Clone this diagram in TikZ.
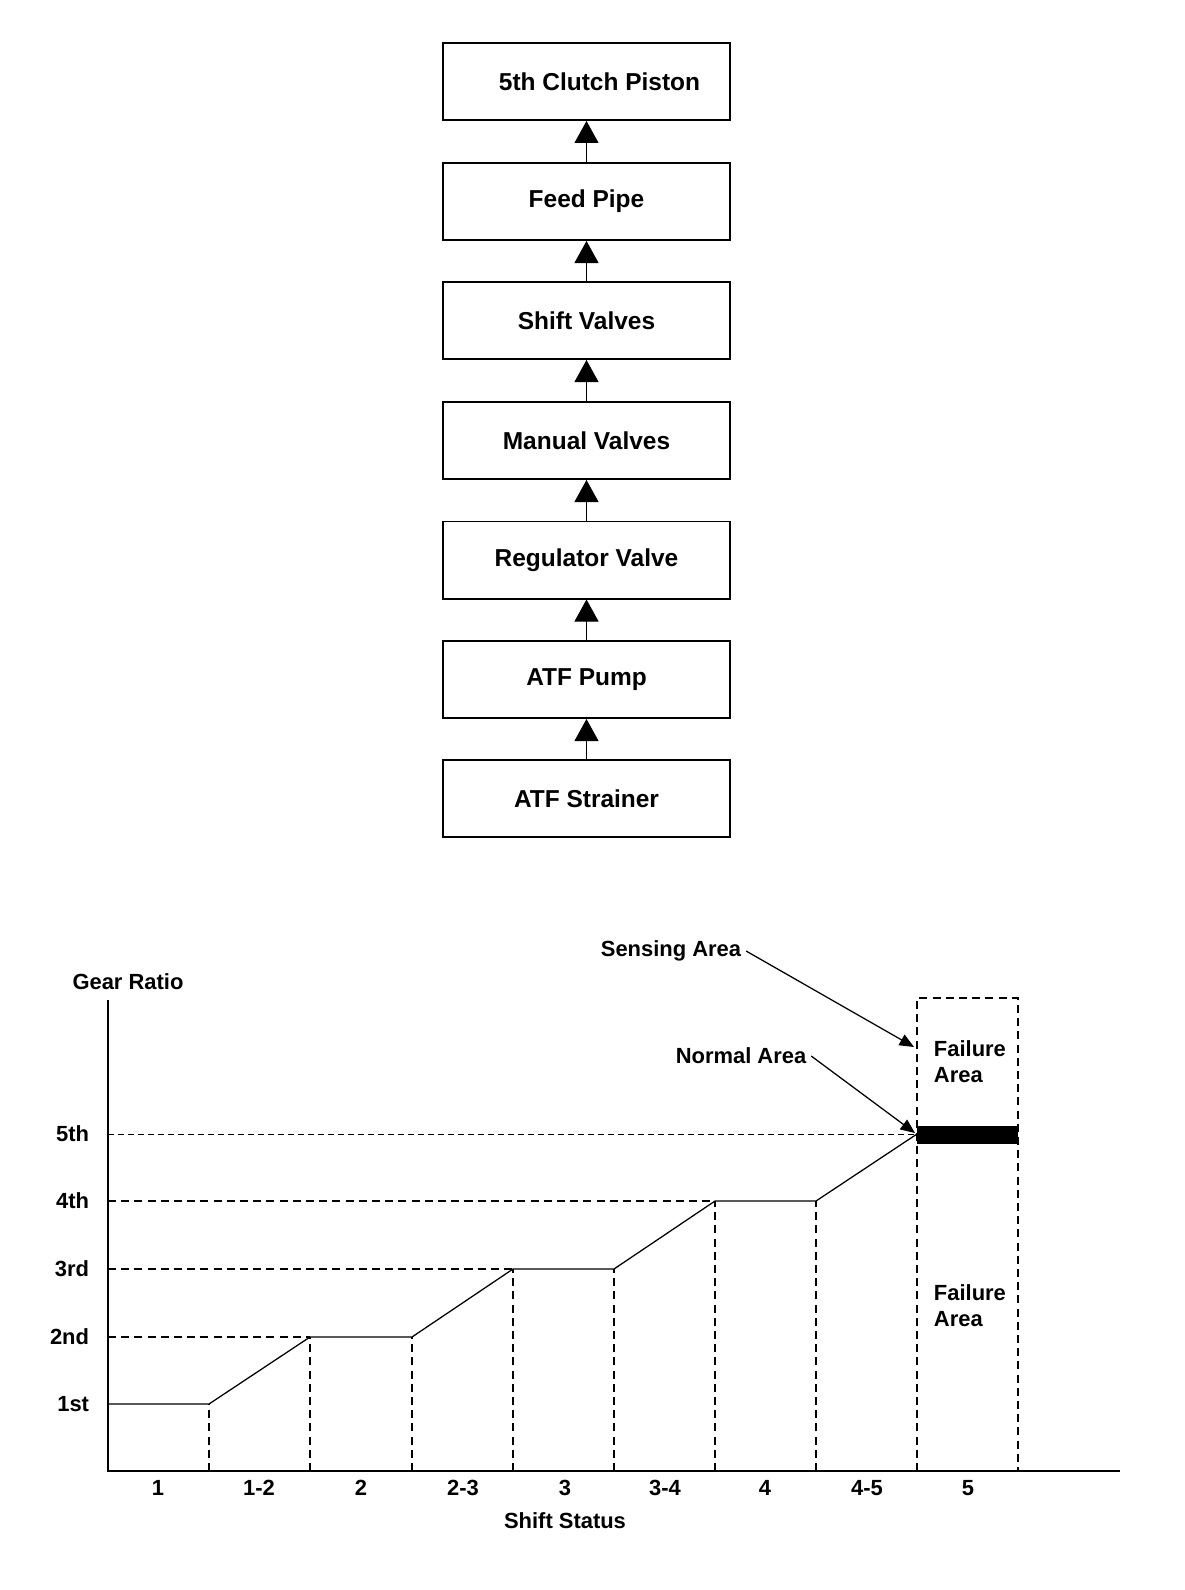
\documentclass[tikz,border=0pt]{standalone}
\usepackage{fontspec}
\setmainfont{Liberation Sans}
\usetikzlibrary{arrows.meta}

\tikzset{
	blocco/.style={draw, line width=1.4pt, minimum width=7.175cm, minimum height=1.925cm, font=\bfseries\fontsize{17.4}{20}\selectfont},
	freccia/.style={-{Triangle[length=0.55cm,width=0.6cm]}, line width=0.7pt},
	etichetta/.style={font=\bfseries\fontsize{15.6}{18.5}\selectfont},
	puntata/.style={dashed, dash pattern=on 0.2cm off 0.13cm, line width=0.9pt},
	puntina/.style={-{Triangle[length=0.36cm,width=0.3cm]}, line width=0.9pt}
}

\begin{document}
\begin{tikzpicture}[x=0.025cm,y=-0.025cm]
		\useasboundingbox (0,0) rectangle (1184,1590);
		% schema a blocchi
		\node [blocco](Pistone)at (586.5,81.5) {\hspace*{0.65cm}5th Clutch Piston};
		\node [blocco](Tubo)at (586.5,201.5) {Feed Pipe};
		\node [blocco](Cambio)at (586.5,320.5) {Shift Valves};
		\node [blocco](Manuali)at (586.5,440.5) {Manual Valves};
		\node [blocco](Regolatore)at (586.5,560) {Regulator Valve};
		\node [blocco](Pompa)at (586.5,679.5) {ATF Pump};
		\node [blocco](Filtro)at (586.5,798.5) {ATF Strainer};
		\draw [freccia](Filtro)--(Pompa);
		\draw [freccia](Pompa)--(Regolatore);
		\draw [freccia](Regolatore)--(Manuali);
		\draw [freccia](Manuali)--(Cambio);
		\draw [freccia](Cambio)--(Tubo);
		\draw [freccia](Tubo)--(Pistone);
		% grafico
		\coordinate (O) at (108,1471);
		\draw [line width=1.4pt](108,1000)--(O)--(1120,1471);
		\node [etichetta](Rapporto)at (128,982) {Gear Ratio};
		\node [etichetta, anchor=east](M1)at (94,1404) {1st};
		\node [etichetta, anchor=east](M2)at (94,1337) {2nd};
		\node [etichetta, anchor=east](M3)at (94,1269) {3rd};
		\node [etichetta, anchor=east](M4)at (94,1201) {4th};
		\node [etichetta, anchor=east](M5)at (94,1134) {5th};
		\node [etichetta](S1)at (158,1488) {1};
		\node [etichetta](S12)at (259,1488) {1-2};
		\node [etichetta](S2)at (361,1488) {2};
		\node [etichetta](S23)at (463,1488) {2-3};
		\node [etichetta](S3)at (565,1488) {3};
		\node [etichetta](S34)at (665,1488) {3-4};
		\node [etichetta](S4)at (765,1488) {4};
		\node [etichetta](S45)at (867,1488) {4-5};
		\node [etichetta](S5)at (968,1488) {5};
		\node [etichetta](Stato)at (565,1521) {Shift Status};
		% rapporti
		\draw [line width=0.9pt](108,1404)--(209,1404)--(310,1337)--(412,1337)--(513,1269)--(614,1269)--(715,1201)--(816,1201)--(917,1134);
		\draw [puntata](108,1337)--(310,1337);
		\draw [puntata](108,1269)--(513,1269);
		\draw [puntata](108,1201)--(715,1201);
		\draw [puntata, line width=0.6pt, dash pattern=on 0.15cm off 0.1cm](108,1134)--(917,1134);
		\draw [puntata](209,1471)--(209,1404);
		\draw [puntata](310,1471)--(310,1337);
		\draw [puntata](412,1471)--(412,1337);
		\draw [puntata](513,1471)--(513,1269);
		\draw [puntata](614,1471)--(614,1269);
		\draw [puntata](715,1471)--(715,1201);
		\draw [puntata](816,1471)--(816,1201);
		\draw [puntata](917,1471)--(917,998)--(1018,998)--(1018,1471);
		\fill (917,1126) rectangle (1018,1144);
		% aree
		\node [etichetta, align=left, anchor=west](Guasto)at (929,1062) {Failure\\Area};
		\node [etichetta, align=left, anchor=west](Guasto2)at (929,1306) {Failure\\Area};
		\node [etichetta](Sensore)at (671,951) {Sensing Area};
		\node [etichetta](Normale)at (741,1056) {Normal Area};
		\coordinate (PuntoS) at (914,1047);
		\coordinate (PuntoN) at (915,1133);
		\draw [puntina](Sensore.east)--(PuntoS);
		\draw [puntina](Normale.east)--(PuntoN);
	\end{tikzpicture}
\end{document}
